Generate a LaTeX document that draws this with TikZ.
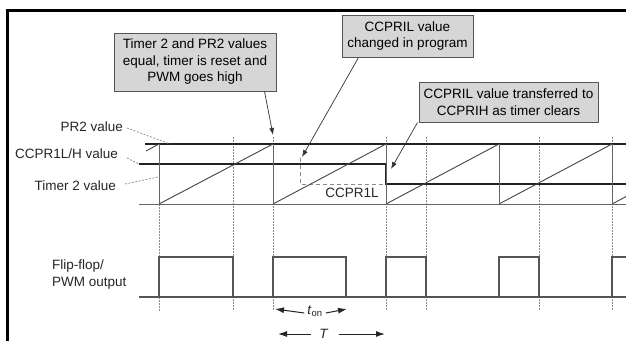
\documentclass[tikz,border=0pt]{standalone}
\usepackage{fontspec}
\setmainfont{Liberation Sans}
\usetikzlibrary{arrows.meta}
\definecolor{thickc}{HTML}{222222}
\definecolor{rampc}{HTML}{444444}
\definecolor{pwmc}{HTML}{555555}
\definecolor{basec}{HTML}{666666}
\definecolor{dotc}{HTML}{8A8A8A}
\definecolor{boxfill}{HTML}{D6D6D6}
\definecolor{boxdraw}{HTML}{555555}
\tikzset{
  lvl/.style={thickc, line width=2pt},
  ramp/.style={rampc, line width=0.9pt},
  resetl/.style={basec, line width=1pt},
  pwm/.style={pwmc, line width=1.4pt},
  guide/.style={dotc, line width=0.7pt, dash pattern=on 1.5pt off 1.5pt},
  leader/.style={dotc, line width=0.7pt, dash pattern=on 2pt off 1.5pt},
  progdash/.style={dotc, line width=0.9pt, dash pattern=on 4pt off 3pt},
  callout/.style={draw=boxdraw, fill=boxfill, line width=1pt, align=center, inner sep=0pt},
  lab/.style={inner sep=0pt, text=black!85},
  pointer/.style={black!80, line width=0.7pt, -{Latex[length=7pt,width=5pt]}},
  dimarrow/.style={black!85, line width=1pt, -{Latex[length=9pt,width=6pt]}},
}
\begin{document}
\begin{tikzpicture}[x=1pt,y=-1pt]
\fontsize{13.5}{16.5}\selectfont
\useasboundingbox (0,0) rectangle (626,341);
\fill[white] (0,0) rectangle (626,341);
% frame
\draw[black, line width=2.5pt] (7.5,341) -- (7.5,10.5) -- (626,10.5);

% guide dotted verticals
\foreach \x in {233,273,386,426,539,612}
  \draw[guide] (\x,137) -- (\x,311);
\draw[guide] (159,204) -- (159,311);

% reference lines
\draw[lvl] (145,144) -- (626,144);
\draw[lvl] (139,164) -- (386,164) -- (386,184) -- (626,184);
\draw[resetl] (139,204) -- (626,204);
\draw[progdash] (300,158) -- (300,184) -- (386,184);

% timer ramps and resets
\draw[ramp] (146,151) -- (159,144);
\foreach \a/\b in {159/273,273/386,386/499,499/612}
  \draw[ramp] (\a,204) -- (\b,144);
\draw[ramp] (612,204) -- (626,196.6);
\foreach \x in {159,273,386,499,612}
  \draw[resetl] (\x,144) -- (\x,204);

% PWM output
\draw[pwm] (139,297) -- (626,297);
\foreach \a/\b in {159/233,273/346,386/426,499/539}
  \draw[pwm] (\a,297) -- (\a,257) -- (\b,257) -- (\b,297);
\draw[pwm] (612,297) -- (612,257) -- (626,257);

% labels
\node[lab, anchor=east] (pr2lab) at (123,127) {PR2 value};
\node[lab, anchor=east] (ccplab) at (118,154) {CCPR1L/H value};
\node[lab, anchor=east] (tmrlab) at (116,186) {Timer 2 value};
\node[lab, anchor=west, align=left] (pwmlab) at (52,274.5) {Flip-flop/\\PWM output};
\node[lab] (ccprl) at (352,193) {CCPR1L};

\coordinate (pr2pt) at (170,144);
\coordinate (ccppt) at (139,164);
\coordinate (tmrpt) at (158,177);
\draw[leader] ([xshift=4pt,yshift=-1pt]pr2lab.east) -- (pr2pt);
\draw[leader] ([xshift=9pt,yshift=-4pt]ccplab.east) -- (ccppt);
\draw[leader] ([xshift=9pt,yshift=2pt]tmrlab.east) -- (tmrpt);

% callouts
\node[callout, minimum width=162pt, minimum height=58pt] (b1) at (195,62)
  {Timer 2 and PR2 values\\equal, timer is reset and\\PWM goes high};
\node[callout, minimum width=131pt, minimum height=42pt] (b2) at (407.5,36)
  {CCPRIL value\\changed in program};
\node[callout, minimum width=179pt, minimum height=40pt] (b3) at (508.5,102)
  {CCPRIL value transferred to\\CCPRIH as timer clears};

\coordinate (t1) at (273,135);
\coordinate (t2) at (302,157);
\coordinate (t3) at (391,169);
\draw[pointer] ([xshift=-12pt]b1.south east) -- (t1);
\draw[pointer] ([xshift=17pt]b2.south west) -- (t2);
\draw[pointer] ([xshift=-1pt]b3.south west) -- (t3);

% t_on and T
\node[lab] (ton) at (315,311) {\textit{t}\textsubscript{on}};
\node[lab] (per) at (324,334) {\textit{T}};
\coordinate (tonL) at (275,309);
\coordinate (tonR) at (347,309);
\coordinate (perL) at (278,334);
\coordinate (perR) at (385,334);
\draw[dimarrow] ([xshift=-3pt,yshift=-2pt]ton.west) -- (tonL);
\draw[dimarrow] ([xshift=3pt,yshift=-2pt]ton.east) -- (tonR);
\draw[dimarrow] ([xshift=-8pt]per.west) -- (perL);
\draw[dimarrow] ([xshift=10pt]per.east) -- (perR);
\end{tikzpicture}
\end{document}
